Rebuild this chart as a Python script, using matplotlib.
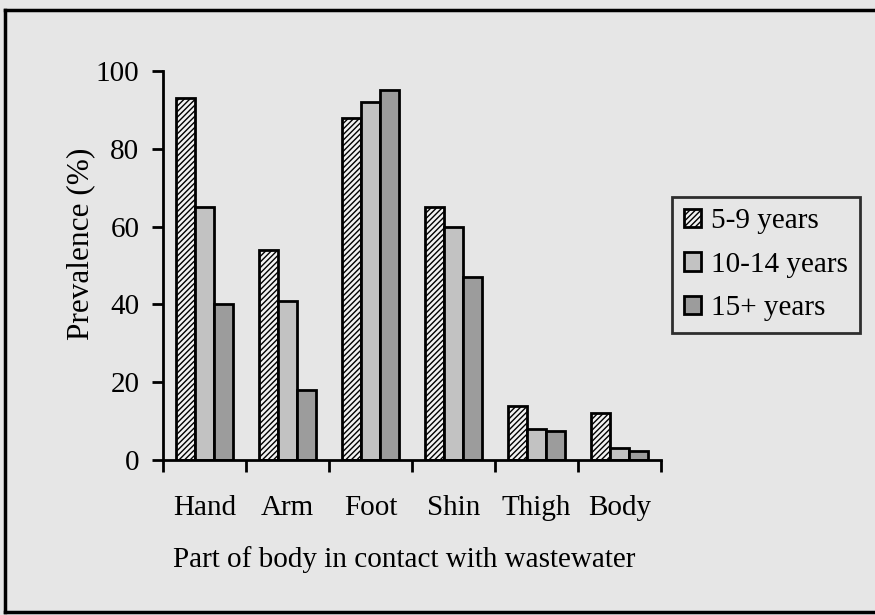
import matplotlib.pyplot as plt
import numpy as np

# values (%)
parts = ['Hand', 'Arm', 'Foot', 'Shin', 'Thigh', 'Body']
age_5_9 = [93, 54, 88, 65, 14, 12]
age_10_14 = [65, 41, 92, 60, 8, 3]
age_15_plus = [40, 18, 95, 47, 7.5, 2.3]
series_names = ['5-9 years', '10-14 years', '15+ years']
yticks = [0, 20, 40, 60, 80, 100]

bg = '#e6e6e6'
fs = 21
plt.rcParams['font.family'] = 'Liberation Serif'
plt.rcParams['hatch.linewidth'] = 1.0

fig = plt.figure(figsize=(8.75, 6.15), dpi=100, facecolor=bg)
ax = fig.add_axes([0.1863, 0.252, 0.5691, 0.6326])
ax.set_facecolor(bg)

x = np.arange(len(parts))
w = 0.23
ax.bar(x - w, age_5_9, w, facecolor='#f2f2f2', edgecolor='black', hatch='//////', linewidth=2, label=series_names[0])
ax.bar(x, age_10_14, w, facecolor='#c2c2c2', edgecolor='black', linewidth=2, label=series_names[1])
ax.bar(x + w, age_15_plus, w, facecolor='#9c9c9c', edgecolor='black', linewidth=2, label=series_names[2])

ax.set_xlim(-0.5, len(parts) - 0.5)
ax.set_ylim(0, 100)
ax.set_yticks(yticks)
ax.set_xticks(np.arange(len(parts) + 1) - 0.5)
ax.set_xticklabels([])
ax.set_xticks(x, minor=True)
ax.set_xticklabels(parts, minor=True)
ax.tick_params(axis='x', which='minor', length=0, pad=25, labelsize=fs)
ax.tick_params(axis='x', which='major', length=8.6, width=2, direction='out')
ax.tick_params(axis='y', length=8, width=2, direction='out', labelsize=fs, pad=9)

for s in ['top', 'right']:
    ax.spines[s].set_visible(False)
for s in ['left', 'bottom']:
    ax.spines[s].set_linewidth(2)

ax.set_ylabel('Prevalence (%)', fontsize=22.5, ha='center', va='center')
ax.yaxis.set_label_coords(-0.165, 0.555)
ax.set_xlabel('Part of body in contact with wastewater', fontsize=fs, ha='center', va='center')
ax.xaxis.set_label_coords(0.484, -0.257)

leg = fig.legend(loc='upper left', bbox_to_anchor=(0.768, 0.68), fontsize=fs,
                 frameon=True, fancybox=False, edgecolor='black', facecolor=bg,
                 handlelength=0.6, handleheight=0.6, handletextpad=0.35,
                 labelspacing=0.6, borderpad=0.4, borderaxespad=0)
leg.get_frame().set_linewidth(2)

# outer frame of the scanned figure
fig.add_artist(plt.Line2D([0.006, 0.006], [0.005, 0.984], color='black', lw=2.5))
fig.add_artist(plt.Line2D([0.006, 1.0], [0.984, 0.984], color='black', lw=2.5))
fig.add_artist(plt.Line2D([0.006, 1.0], [0.005, 0.005], color='black', lw=2.5))

fig.savefig('out.png', dpi=100, facecolor=bg)
